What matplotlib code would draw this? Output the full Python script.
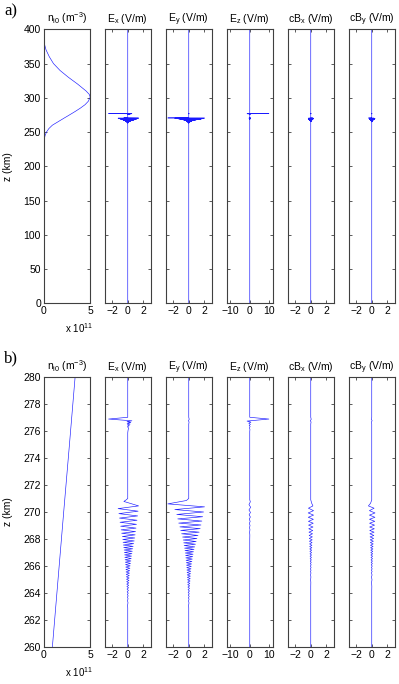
import matplotlib
matplotlib.use("Agg")
import matplotlib.pyplot as plt

plt.rcParams['font.family'] = ['Liberation Sans', 'DejaVu Sans']
plt.rcParams['mathtext.fontset'] = 'custom'
plt.rcParams['mathtext.rm'] = 'Liberation Sans'
plt.rcParams['mathtext.it'] = 'Liberation Sans:italic'
plt.rcParams['mathtext.default'] = 'rm'

# ion density profile (units of 1e11 m^-3) vs altitude (km)
n_z = [400, 390, 380, 370, 360, 350, 340, 330, 320, 310, 305, 301, 295, 290, 285,
       280, 275, 270, 265, 260, 255, 250, 245, 240, 235, 230, 220, 0]
n_val = [0.0, 0.01, 0.05, 0.25, 0.6, 1.05, 1.75, 2.65, 3.65, 4.55, 4.9, 5.0, 4.8, 4.45, 3.95,
         3.38, 2.77, 2.15, 1.54, 0.93, 0.55, 0.3, 0.15, 0.07, 0.03, 0.01, 0.0, 0.0]

# E_x (V/m)
ex_z = [400, 277.0, 276.87, 276.74, 276.68, 276.62, 276.56, 276.5, 276.44, 276.38, 276.3,
        276.2, 276.1, 276.0, 275.85, 271.0, 270.9, 270.78,
        270.45, 270.25, 270.06, 269.88, 269.71, 269.55, 269.39, 269.24, 269.09, 268.95,
        268.81, 268.68, 268.55, 268.43, 268.31, 268.19, 268.08, 267.97, 267.86, 267.76,
        267.66, 267.56, 267.46, 267.37, 267.28, 267.19, 267.10, 267.01, 266.92, 266.83,
        266.74, 266.65, 266.56, 266.47, 266.38, 266.29, 266.20, 266.11, 266.02, 265.93,
        265.84, 265.75, 265.66, 265.57, 265.48, 265.39, 265.30, 265.21, 265.12, 265.03,
        264.94, 264.85, 264.76, 264.67, 264.58, 264.49, 264.40, 264.30, 264.20, 264.10,
        264.00, 263.90, 263.80, 263.70, 263.60, 263.45, 263.30, 263.10, 262.9, 0]
ex_val = [0, 0, -2.48, 0.54, -0.1, 0.4, -0.08, 0.3, -0.06, 0.2, -0.04,
          0.12, 0.06, 0.03, 0, 0, -0.2, -0.5,
          1.40, -1.25, 1.34, -1.15, 1.28, -1.07, 1.20, -1.00, 1.13, -0.92,
          1.07, -0.86, 1.01, -0.79, 0.96, -0.70, 0.91, -0.65, 0.84, -0.61,
          0.77, -0.57, 0.70, -0.52, 0.64, -0.47, 0.59, -0.44, 0.54, -0.41,
          0.49, -0.38, 0.45, -0.35, 0.41, -0.32, 0.36, -0.29, 0.31, -0.26,
          0.28, -0.24, 0.25, -0.22, 0.22, -0.20, 0.20, -0.18, 0.18, -0.16,
          0.16, -0.14, 0.14, -0.13, 0.12, -0.11, 0.10, -0.09, 0.09, -0.08,
          0.07, -0.06, 0.06, -0.05, 0.04, -0.03, 0.03, -0.02, 0.0, 0]

# E_y (V/m)
ey_z = [400, 277.0, 276.85, 276.75, 276.65, 276.5, 271.0, 270.85,
        270.60, 270.38, 270.18, 270.00, 269.82, 269.65, 269.49, 269.33, 269.18, 269.04,
        268.90, 268.77, 268.64, 268.51, 268.39, 268.27, 268.15, 268.04, 267.93, 267.82,
        267.72, 267.62, 267.52, 267.42, 267.33, 267.24, 267.15, 267.06, 266.97, 266.88,
        266.79, 266.70, 266.61, 266.52, 266.43, 266.34, 266.25, 266.16, 266.07, 265.98,
        265.89, 265.80, 265.71, 265.62, 265.53, 265.44, 265.35, 265.26, 265.17, 265.08,
        264.99, 264.90, 264.81, 264.72, 264.63, 264.54, 264.45, 264.36, 264.26, 264.16,
        264.06, 263.96, 263.86, 263.76, 263.66, 263.56, 263.42, 263.28, 263.10, 262.9, 0]
ey_val = [0, 0, 0.06, -0.04, 0.04, 0, 0, -0.3,
          -2.70, 2.04, -1.80, 1.92, -1.55, 1.80, -1.42, 1.70, -1.30, 1.58,
          -1.15, 1.48, -1.05, 1.35, -0.93, 1.20, -0.80, 1.06, -0.72, 0.96,
          -0.66, 0.87, -0.60, 0.78, -0.54, 0.68, -0.49, 0.62, -0.45, 0.56,
          -0.41, 0.51, -0.38, 0.46, -0.35, 0.41, -0.32, 0.37, -0.29, 0.33,
          -0.26, 0.29, -0.24, 0.26, -0.22, 0.23, -0.20, 0.21, -0.18, 0.19,
          -0.16, 0.17, -0.15, 0.14, -0.13, 0.12, -0.11, 0.10, -0.09, 0.09,
          -0.08, 0.07, -0.06, 0.06, -0.05, 0.04, -0.03, 0.03, -0.02, 0.0, 0]

# E_z (V/m)
ez_z = [400, 277.0, 276.87, 276.72, 276.64, 276.56, 276.48, 276.40, 276.32, 276.22,
        276.1, 275.95, 270.9, 270.75, 270.55, 270.35, 270.15, 269.97, 269.8, 269.63,
        269.47, 269.31, 269.16, 269.0, 268.85, 268.7, 268.5, 268.3, 268.0, 0]
ez_val = [0, 0, 9.9, -1.4, 0.6, -0.5, 0.35, -0.3, 0.2, -0.15,
          0.1, 0, 0, 0.3, -0.4, 0.45, -0.4, 0.38, -0.32, 0.3,
          -0.25, 0.22, -0.18, 0.15, -0.12, 0.1, -0.06, 0.04, 0, 0]

# cB_x (V/m)
bx_z = [400, 277.0, 276.85, 276.75, 276.65, 276.5, 270.9, 270.65,
        270.45, 270.28, 270.10, 269.93, 269.77, 269.61, 269.46, 269.31, 269.17, 269.03,
        268.89, 268.76, 268.63, 268.51, 268.39, 268.27, 268.16, 268.05, 267.94, 267.84,
        267.74, 267.64, 267.54, 267.45, 267.36, 267.27, 267.18, 267.09, 267.00, 266.91,
        266.82, 266.73, 266.64, 266.55, 266.46, 266.37, 266.28, 266.19, 266.10, 266.0,
        265.9, 265.8, 265.7, 265.6, 265.5, 265.35, 265.2, 265.0, 264.8, 264.5, 0]
bx_val = [0, 0, 0.06, -0.05, 0.04, 0, 0, 0.12,
          0.28, -0.30, 0.36, -0.33, 0.36, -0.32, 0.34, -0.30, 0.32, -0.28,
          0.29, -0.26, 0.26, -0.23, 0.23, -0.21, 0.21, -0.19, 0.19, -0.17,
          0.17, -0.15, 0.15, -0.14, 0.14, -0.13, 0.12, -0.11, 0.11, -0.10,
          0.10, -0.09, 0.09, -0.08, 0.08, -0.07, 0.07, -0.06, 0.06, -0.05,
          0.05, -0.045, 0.04, -0.035, 0.03, -0.025, 0.02, -0.015, 0.01, 0, 0]

# cB_y (V/m)
by_z = [400, 277.0, 276.85, 276.75, 276.65, 276.5, 270.9, 270.65,
        270.45, 270.28, 270.10, 269.93, 269.77, 269.61, 269.46, 269.31, 269.17, 269.03,
        268.89, 268.76, 268.63, 268.51, 268.39, 268.27, 268.16, 268.05, 267.94, 267.84,
        267.74, 267.64, 267.54, 267.45, 267.36, 267.27, 267.18, 267.09, 267.00, 266.91,
        266.82, 266.73, 266.64, 266.55, 266.46, 266.37, 266.28, 266.19, 266.10, 266.0,
        265.9, 265.8, 265.7, 265.6, 265.5, 265.35, 265.2, 265.0, 264.8, 264.5, 264.2, 0]
by_val = [0, 0, -0.06, 0.05, -0.04, 0, 0, -0.15,
          -0.43, 0.30, -0.30, 0.42, -0.30, 0.41, -0.29, 0.39, -0.28, 0.36,
          -0.27, 0.33, -0.26, 0.30, -0.24, 0.27, -0.22, 0.24, -0.20, 0.21,
          -0.18, 0.19, -0.16, 0.17, -0.15, 0.15, -0.13, 0.13, -0.12, 0.12,
          -0.11, 0.11, -0.10, 0.10, -0.09, 0.09, -0.08, 0.08, -0.07, 0.07,
          -0.06, 0.06, -0.05, 0.05, -0.045, 0.04, -0.035, 0.03, -0.02, 0.01, 0, 0]

titles = [r'n$_{\rm i0}$ (m$^{-3}$)', r'E$_{\rm x}$ (V/m)', r'E$_{\rm y}$ (V/m)',
          r'E$_{\rm z}$ (V/m)', r'cB$_{\rm x}$ (V/m)', r'cB$_{\rm y}$ (V/m)']
x_limits = [(0, 5e11), (-3, 3), (-3, 3), (-12, 12), (-3, 3), (-3, 3)]
x_ticks = [[0, 5e11], [-2, 0, 2], [-2, 0, 2], [-10, 0, 10], [-2, 0, 2], [-2, 0, 2]]
x_ticklabels = [['0', '5'], ['\u22122', '0', '2'], ['\u22122', '0', '2'],
                ['\u221210', '0', '10'], ['\u22122', '0', '2'], ['\u22122', '0', '2']]

W, H = 399, 684
LEFTS = [43.7, 104.5, 165.5, 226.5, 287.5, 348.5]
AX_W = 46.5
FS = 7.5


def make_panel(fig, top, bottom, ylim, yticks, label):
    series = [([v * 1e11 for v in n_val], n_z), (ex_val, ex_z), (ey_val, ey_z),
              (ez_val, ez_z), (bx_val, bx_z), (by_val, by_z)]
    for i, (xv, zv) in enumerate(series):
        ax = fig.add_axes([LEFTS[i] / W, 1 - bottom / H, AX_W / W, (bottom - top) / H])
        ax.plot(xv, zv, color=(0.1, 0.1, 1.0), lw=0.45)
        ax.set_xlim(*x_limits[i])
        ax.set_ylim(*ylim)
        ax.set_xticks(x_ticks[i])
        ax.set_xticklabels(x_ticklabels[i])
        ax.set_yticks(yticks)
        if i > 0:
            ax.set_yticklabels([])
        else:
            ax.set_yticklabels([str(t) for t in yticks])
        ax.tick_params(direction='in', top=True, right=True, length=2.2, width=0.6,
                       color='0.25', labelsize=FS, pad=2)
        for s in ax.spines.values():
            s.set_color('0.25')
            s.set_linewidth(0.8)
        ax.set_title(titles[i], fontsize=FS, pad=5)
    fig.text(65 / W, 1 - (bottom + 25) / H, r'x 10$^{11}$', fontsize=FS - 0.5,
             ha='left', va='center')
    fig.text(8 / W, 1 - (top + bottom) / 2 / H, 'z (km)', rotation=90, fontsize=FS,
             ha='center', va='center')
    fig.text(4 / W, 1 - (top - 18) / H, label, fontsize=12, family='Liberation Serif',
             ha='left', va='center')


def main():
    fig = plt.figure(figsize=(W / 100, H / 100), dpi=100)
    make_panel(fig, 29.3, 303.3, (0, 400), list(range(0, 401, 50)), 'a)')
    make_panel(fig, 376.7, 647.3, (260, 280), list(range(260, 281, 2)), 'b)')
    fig.savefig('out.png', dpi=100)


if __name__ == "__main__":
    main()
